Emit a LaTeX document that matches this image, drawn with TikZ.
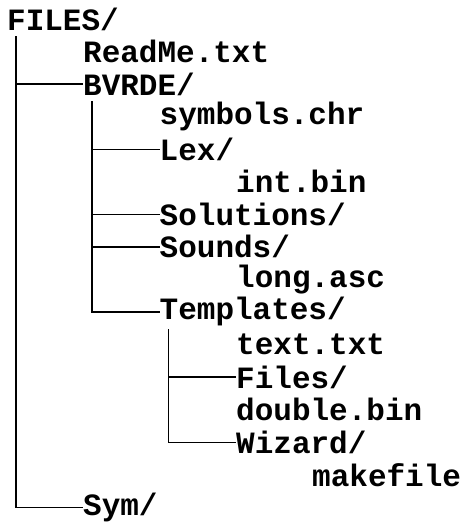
\documentclass[tikz,border=0pt]{standalone}
\usepackage{fontspec}
\usepackage{tikz}
\newfontfamily\treefont{Liberation Mono}

\begin{document}
\begin{tikzpicture}[x=1pt,y=1pt,
entry/.style={anchor=west,inner sep=0pt,minimum height=32pt,
font=\treefont\bfseries\fontsize{31}{31}\selectfont},
branch/.style={draw,line width=1.4pt}]
\useasboundingbox (0,0) rectangle (469,-523);
% directory entries, one per row
\node[entry] (files)     at (7,-19)       {FILES/};
\node[entry] (readme)    at (83,-51.6)    {ReadMe.txt};
\node[entry] (bvrde)     at (83,-84.1)    {BVRDE/};
\node[entry] (symbols)   at (159.5,-116.7) {symbols.chr};
\node[entry] (lex)       at (159.5,-149.2) {Lex/};
\node[entry] (intbin)    at (236,-181.8)  {int.bin};
\node[entry] (solutions) at (159.5,-214.3) {Solutions/};
\node[entry] (sounds)    at (159.5,-246.9) {Sounds/};
\node[entry] (longasc)   at (236,-279.4)  {long.asc};
\node[entry] (templates) at (159.5,-311.9) {Templates/};
\node[entry] (texttxt)   at (236,-344.5)  {text.txt};
\node[entry] (filesdir)  at (236,-377.1)  {Files/};
\node[entry] (doublebin) at (236,-409.6)  {double.bin};
\node[entry] (wizard)    at (236,-442.2)  {Wizard/};
\node[entry] (makefile)  at (312,-474.7)  {makefile};
\node[entry] (sym)       at (83,-507.3)   {Sym/};
% tree lines
\draw[branch] ([xshift=9pt,yshift=-1pt]files.south west) |- (bvrde.west);
\draw[branch] ([xshift=9pt,yshift=-1pt]files.south west) |- (sym.west);
\draw[branch] ([xshift=9pt,yshift=-1pt]bvrde.south west) |- (lex.west);
\draw[branch] ([xshift=9pt,yshift=-1pt]bvrde.south west) |- (solutions.west);
\draw[branch] ([xshift=9pt,yshift=-1pt]bvrde.south west) |- (sounds.west);
\draw[branch] ([xshift=9pt,yshift=-1pt]bvrde.south west) |- (templates.west);
\draw[branch] ([xshift=9pt,yshift=-1pt]templates.south west) |- (filesdir.west);
\draw[branch] ([xshift=9pt,yshift=-1pt]templates.south west) |- (wizard.west);
\end{tikzpicture}
\end{document}
